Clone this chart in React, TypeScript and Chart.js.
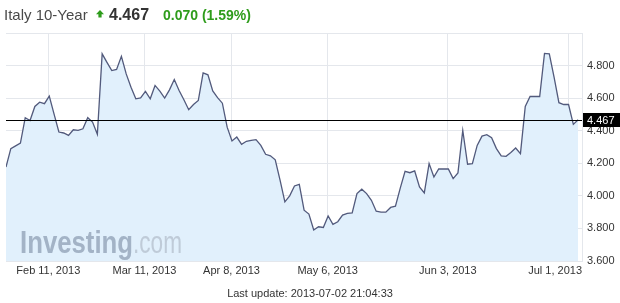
import React, { useEffect, useRef } from 'react';
import { Chart, registerables } from 'chart.js';

Chart.register(...registerables);

// Italy 10-year yield, one value per trading session
const YIELDS: number[] = [
  4.177, 4.290, 4.307, 4.324, 4.480, 4.463, 4.549, 4.575, 4.566, 4.612,
  4.502, 4.392, 4.386, 4.371, 4.406, 4.402, 4.412, 4.480, 4.453, 4.378,
  4.872, 4.820, 4.769, 4.776, 4.857, 4.749, 4.667, 4.596, 4.602, 4.641,
  4.596, 4.678, 4.643, 4.600, 4.651, 4.714, 4.647, 4.590, 4.529, 4.561,
  4.586, 4.755, 4.743, 4.644, 4.603, 4.569, 4.422, 4.337, 4.361, 4.316,
  4.335, 4.341, 4.345, 4.310, 4.255, 4.246, 4.221, 4.096, 3.963, 4.000,
  4.061, 4.071, 3.912, 3.888, 3.790, 3.810, 3.806, 3.877, 3.825, 3.841,
  3.882, 3.892, 3.896, 4.014, 4.041, 4.014, 3.973, 3.906, 3.900, 3.900,
  3.929, 3.937, 4.047, 4.151, 4.142, 4.153, 4.055, 4.018, 4.198, 4.116,
  4.165, 4.165, 4.165, 4.106, 4.141, 4.402, 4.194, 4.198, 4.310, 4.367,
  4.376, 4.357, 4.290, 4.245, 4.243, 4.266, 4.294, 4.259, 4.549, 4.610,
  4.610, 4.610, 4.875, 4.872, 4.728, 4.572, 4.561, 4.561, 4.439, 4.467,
];

// date ticks, as positions along the session index
const DATE_TICK_POS: number[] = [8.8, 28.8, 46.9, 66.9, 91.9, 116.9];
const DATE_TICK_LABELS: string[] = [
  'Feb 11, 2013', 'Mar 11, 2013', 'Apr 8, 2013', 'May 6, 2013', 'Jun 3, 2013', 'Jul 1, 2013',
];
const Y_TICKS: number[] = [3.6, 3.8, 4.0, 4.2, 4.4, 4.6, 4.8, 5.0];
const Y_MIN = 3.6;
const Y_MAX = 5.0;

const TITLE = 'Italy 10-Year';
const LAST_VALUE = 4.467;
const CHANGE_TEXT = '0.070 (1.59%)';
const LAST_UPDATE = 'Last update: 2013-07-02 21:04:33';

const FONT = '"Liberation Sans", Arial, sans-serif';
const GRID = '#e4e7ec';

const overlay = {
  id: 'overlay',
  afterDatasetsDraw(chart: any) {
    const { ctx, chartArea } = chart;
    const ys = chart.scales.y;
    ctx.save();
    // watermark
    ctx.textBaseline = 'alphabetic';
    ctx.textAlign = 'left';
    ctx.fillStyle = '#a3b3c6';
    ctx.font = `bold 32px ${FONT}`;
    ctx.fillText('Investing', 20, 252.5, 113);
    ctx.fillStyle = '#bfcbd8';
    ctx.font = `32px ${FONT}`;
    ctx.fillText('.com', 133, 252.5, 49);

    // last value line
    const y = Math.round(ys.getPixelForValue(LAST_VALUE)) + 0.5;
    ctx.strokeStyle = '#000';
    ctx.lineWidth = 1;
    ctx.beginPath();
    ctx.moveTo(chartArea.left, y);
    ctx.lineTo(chartArea.right, y);
    ctx.stroke();
    ctx.restore();
  },
  afterDraw(chart: any) {
    const { ctx, chartArea } = chart;
    const xs = chart.scales.x;
    const ys = chart.scales.y;
    ctx.save();
    // last value box
    const y = Math.round(ys.getPixelForValue(LAST_VALUE));
    ctx.fillStyle = '#000';
    ctx.fillRect(chartArea.right + 1, y - 7, 40, 14);
    ctx.fillStyle = '#fff';
    ctx.font = `11px ${FONT}`;
    ctx.textBaseline = 'middle';
    ctx.textAlign = 'left';
    ctx.fillText(LAST_VALUE.toFixed(3), chartArea.right + 5, y + 0.5);

    // date labels, kept inside the plot on the right
    ctx.fillStyle = '#333';
    DATE_TICK_POS.forEach((p, i) => {
      const label = DATE_TICK_LABELS[i];
      const w = ctx.measureText(label).width;
      let left = xs.getPixelForValue(p) - w / 2;
      if (left + w > chartArea.right) left = chartArea.right - w;
      ctx.fillText(label, left, chartArea.bottom + 9.5);
    });
    ctx.restore();
  },
};

export default function App() {
  const ref = useRef<HTMLCanvasElement>(null);
  useEffect(() => {
    const chart = new Chart(ref.current as HTMLCanvasElement, {
      type: 'line',
      data: {
        datasets: [
          {
            data: YIELDS.map((v, i) => ({ x: i, y: v })),
            borderColor: '#525a7c',
            borderWidth: 1.3,
            backgroundColor: '#e1f0fc',
            fill: 'start',
            pointRadius: 0,
            tension: 0,
          },
        ],
      },
      options: {
        animation: false,
        responsive: false,
        maintainAspectRatio: false,
        layout: { padding: { left: 6, top: 33, right: 0, bottom: 0 } },
        plugins: { legend: { display: false }, tooltip: { enabled: false } },
        scales: {
          x: {
            type: 'linear',
            min: 0,
            max: YIELDS.length - 0.2,
            afterBuildTicks: (s: any) => {
              s.ticks = DATE_TICK_POS.map((v) => ({ value: v }));
            },
            afterFit: (s: any) => {
              s.height = 42;
            },
            grid: { color: GRID, drawTicks: false },
            border: { display: false },
            ticks: { display: false },
          },
          y: {
            position: 'right',
            min: Y_MIN,
            max: Y_MAX,
            afterBuildTicks: (s: any) => {
              s.ticks = Y_TICKS.map((v) => ({ value: v }));
            },
            afterFit: (s: any) => {
              s.width = 38;
            },
            grid: { color: GRID, drawTicks: false },
            border: { display: true, color: GRID },
            ticks: {
              padding: 5,
              color: '#333',
              font: { family: FONT, size: 11 },
              callback: (v: any) => (Number(v) >= Y_MAX - 0.001 ? '' : Number(v).toFixed(3)),
            },
          },
        },
      },
      plugins: [overlay],
    });
    return () => chart.destroy();
  }, []);

  return (
    <div
      style={{
        position: 'fixed',
        left: 0,
        top: 0,
        width: 620,
        height: 303,
        background: '#fff',
        overflow: 'hidden',
        fontFamily: FONT,
      }}
    >
      <canvas ref={ref} width={620} height={303} style={{ position: 'absolute', left: 0, top: 0, width: 620, height: 303 }} />
      <div style={{ position: 'absolute', left: 4, top: 7.3, fontSize: 15, lineHeight: 1, color: '#4a4a4a', whiteSpace: 'nowrap' }}>
        {TITLE}
      </div>
      <svg width={8} height={8} viewBox="0 0 8 8" style={{ position: 'absolute', left: 96, top: 10 }}>
        <polygon points="4,0 8,4.2 5.6,4.2 5.6,7.5 2.4,7.5 2.4,4.2 0,4.2" fill="#2e9c1b" />
      </svg>
      <div style={{ position: 'absolute', left: 109, top: 6.5, fontSize: 16, lineHeight: 1, fontWeight: 'bold', color: '#333', whiteSpace: 'nowrap' }}>
        {LAST_VALUE.toFixed(3)}
      </div>
      <div style={{ position: 'absolute', left: 163, top: 8.2, fontSize: 14, lineHeight: 1, fontWeight: 'bold', color: '#2e9c1b', whiteSpace: 'nowrap' }}>
        {CHANGE_TEXT}
      </div>
      <div style={{ position: 'absolute', left: 0, width: 620, top: 288, fontSize: 11, lineHeight: 1, color: '#333', textAlign: 'center', whiteSpace: 'nowrap' }}>
        {LAST_UPDATE}
      </div>
    </div>
  );
}
